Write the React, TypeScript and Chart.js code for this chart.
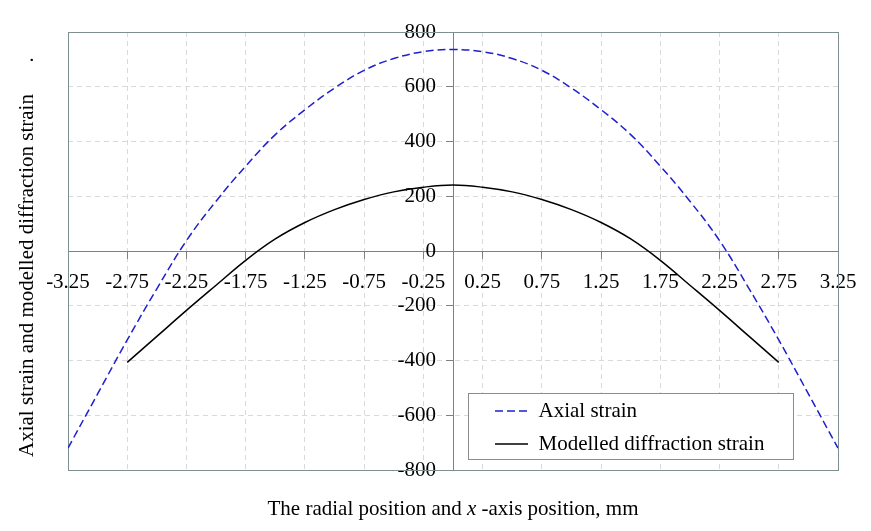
import React, { useEffect, useRef } from "react";
import { Chart, registerables } from "chart.js";

Chart.register(...registerables);

const FONT = '"Liberation Serif", "Times New Roman", Times, serif';

// ---- data ----
const axialX = [-3.25, -3, -2.75, -2.5, -2.25, -2, -1.75, -1.5, -1.25, -1, -0.75, -0.5, -0.25, 0, 0.25, 0.5, 0.75, 1, 1.25, 1.5, 1.75, 2, 2.25, 2.5, 2.75, 3, 3.25];
const axialStrain = [-720, -522, -325, -138, 38, 182, 310, 425, 516, 595, 660, 703, 728, 736, 728, 703, 660, 595, 516, 425, 310, 182, 38, -138, -325, -522, -720];

const modelX = [-2.75, -2.5, -2.25, -2, -1.75, -1.5, -1.25, -1, -0.75, -0.5, -0.25, 0, 0.25, 0.5, 0.75, 1, 1.25, 1.5, 1.75, 2, 2.25, 2.5, 2.75];
const modelStrain = [-407, -312, -217, -125, -34, 44, 104, 151, 188, 216, 233, 241, 233, 216, 188, 151, 104, 44, -34, -125, -217, -312, -407];

const xTickValues = [-3.25, -2.75, -2.25, -1.75, -1.25, -0.75, -0.25, 0.25, 0.75, 1.25, 1.75, 2.25, 2.75, 3.25];
const xTickLabels = ["-3.25", "-2.75", "-2.25", "-1.75", "-1.25", "-0.75", "-0.25", "0.25", "0.75", "1.25", "1.75", "2.25", "2.75", "3.25"];
const yTickValues = [-800, -600, -400, -200, 0, 200, 400, 600, 800];
const yTickLabels = ["-800", "-600", "-400", "-200", "0", "200", "400", "600", "800"];

const seriesNames = ["Axial strain", "Modelled diffraction strain"];
const xTitleParts = ["The radial position and ", "x", " -axis position, mm"];
const yTitle = "Axial strain and modelled diffraction strain      .";

const decorPlugin = {
  id: "decor",
  afterLayout(chart: any) {
    const ca = chart.chartArea;
    const lg = chart.legend;
    if (!lg) return;
    const frame = { x: ca.left + 400, y: ca.top + 361, w: 325, h: 66 };
    lg._frame = frame;
    lg.left = frame.x + 15;
    lg.top = frame.y - 4.5;
    lg.right = frame.x + frame.w;
    lg.bottom = chart.height;
    lg.width = lg.right - lg.left;
    lg.height = lg.bottom - lg.top;
    if (!lg._wrapped) {
      lg._wrapped = true;
      const orig = lg.draw.bind(lg);
      lg.draw = (area: any) => {
        const f = lg._frame;
        const ctx = chart.ctx;
        if (f) {
          ctx.save();
          ctx.fillStyle = "#ffffff";
          ctx.fillRect(f.x, f.y, f.w, f.h);
          ctx.strokeStyle = "#8c8c8c";
          ctx.lineWidth = 1;
          ctx.strokeRect(Math.round(f.x) + 0.5, Math.round(f.y) + 0.5, f.w, f.h);
          ctx.restore();
        }
        orig(area);
      };
    }
  },
  beforeDatasetsDraw(chart: any) {
    const ca = chart.chartArea;
    const ctx = chart.ctx;
    ctx.save();
    ctx.strokeStyle = "#7d8f8f";
    ctx.lineWidth = 1;
    ctx.strokeRect(Math.round(ca.left) + 0.5, Math.round(ca.top) + 0.5, Math.round(ca.width), Math.round(ca.height));
    ctx.restore();
  },
  afterDraw(chart: any) {
    const ca = chart.chartArea;
    const ctx = chart.ctx;
    ctx.save();
    ctx.fillStyle = "#000";
    ctx.textBaseline = "alphabetic";
    // y title (rotated)
    ctx.font = `21px ${FONT}`;
    ctx.save();
    ctx.translate(33, ca.bottom - 13);
    ctx.rotate(-Math.PI / 2);
    ctx.textAlign = "left";
    ctx.fillText(yTitle, 0, 0);
    ctx.restore();
    // x title with italic x
    const fonts = [`21px ${FONT}`, `italic 21px ${FONT}`, `21px ${FONT}`];
    const widths = xTitleParts.map((t, i) => {
      ctx.font = fonts[i];
      return ctx.measureText(t).width;
    });
    const total = widths.reduce((a, b) => a + b, 0);
    let x = (ca.left + ca.right) / 2 - total / 2;
    const y = ca.bottom + 45;
    ctx.textAlign = "left";
    xTitleParts.forEach((t, i) => {
      ctx.font = fonts[i];
      ctx.fillText(t, x, y);
      x += widths[i];
    });
    ctx.restore();
  },
};

export default function App() {
  const canvasRef = useRef<HTMLCanvasElement | null>(null);

  useEffect(() => {
    if (!canvasRef.current) return;
    Chart.defaults.font.family = FONT;
    Chart.defaults.font.size = 21;
    Chart.defaults.color = "#000";

    const chart = new Chart(canvasRef.current, {
      type: "line",
      data: {
        datasets: [
          {
            label: seriesNames[0],
            data: axialX.map((x, i) => ({ x, y: axialStrain[i] })),
            borderColor: "#1f1fcf",
            backgroundColor: "#1f1fcf",
            borderWidth: 1.5,
            borderDash: [8, 4],
            pointRadius: 0,
            tension: 0.4,
            fill: false,
          },
          {
            label: seriesNames[1],
            data: modelX.map((x, i) => ({ x, y: modelStrain[i] })),
            borderColor: "#000000",
            backgroundColor: "#000000",
            borderWidth: 1.5,
            pointRadius: 0,
            tension: 0.4,
            fill: false,
          },
        ],
      },
      options: {
        animation: false,
        responsive: true,
        maintainAspectRatio: false,
        layout: { padding: { left: 68, right: 33, top: 32, bottom: 61 } },
        scales: {
          x: {
            type: "linear",
            position: "center",
            min: -3.25,
            max: 3.25,
            afterBuildTicks: (s: any) => {
              s.ticks = xTickValues.map((v) => ({ value: v }));
            },
            afterFit: (s: any) => {
              s.height = 0;
            },
            ticks: {
              autoSkip: false,
              maxRotation: 0,
              minRotation: 0,
              padding: 12,
              color: "#000",
              font: { family: FONT, size: 21 },
              callback: (_v: any, i: number) => xTickLabels[i],
            },
            grid: {
              color: "#d9d9d9",
              lineWidth: 1,
              tickLength: 7,
              tickColor: "#808080",
              tickWidth: 1,
            },
            border: { display: true, color: "#808080", width: 1, dash: [5, 4] },
          },
          y: {
            type: "linear",
            position: "center",
            min: -800,
            max: 800,
            afterBuildTicks: (s: any) => {
              s.ticks = yTickValues.map((v) => ({ value: v }));
            },
            afterFit: (s: any) => {
              s.width = 0;
            },
            ticks: {
              autoSkip: false,
              padding: 10,
              color: "#000",
              font: { family: FONT, size: 21 },
              callback: (_v: any, i: number) => yTickLabels[i],
            },
            grid: {
              color: "#d9d9d9",
              lineWidth: 1,
              tickLength: 7,
              tickColor: "#808080",
              tickWidth: 1,
            },
            border: { display: true, color: "#808080", width: 1, dash: [5, 4] },
          },
        },
        plugins: {
          tooltip: { enabled: false },
          legend: {
            display: true,
            position: "chartArea" as any,
            align: "start",
            labels: {
              font: { family: FONT, size: 21 },
              color: "#000",
              usePointStyle: true,
              pointStyle: "line",
              pointStyleWidth: 33,
              padding: 12,
              generateLabels: (c: any) => {
                const items = (Chart.defaults as any).plugins.legend.labels.generateLabels(c);
                items.forEach((it: any) => {
                  const ds = c.data.datasets[it.datasetIndex];
                  it.lineDash = ds.borderDash || [];
                  it.lineWidth = ds.borderWidth;
                  it.strokeStyle = ds.borderColor;
                });
                return items;
              },
            },
          },
        },
      } as any,
      plugins: [decorPlugin as any],
    });

    return () => {
      chart.destroy();
    };
  }, []);

  return (
    <div style={{ position: "fixed", left: 0, top: 0, width: 871, height: 531, background: "#fff" }}>
      <canvas ref={canvasRef} />
    </div>
  );
}
